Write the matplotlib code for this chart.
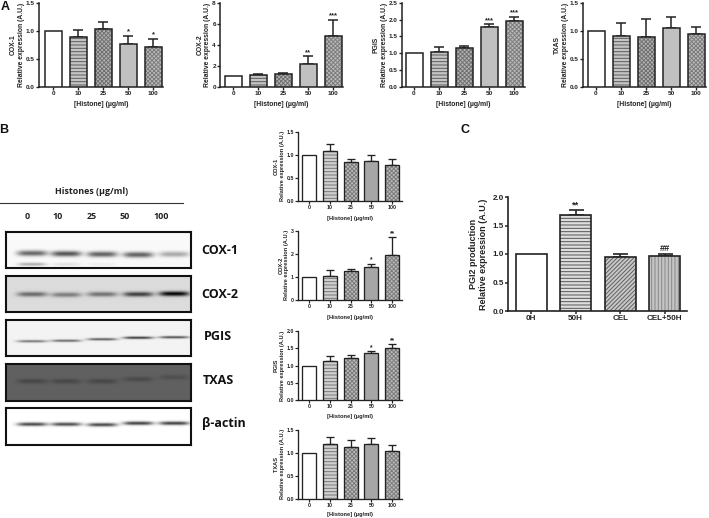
import numpy as np
import matplotlib
matplotlib.use('Agg')
import matplotlib.pyplot as plt

plt.rcParams['font.family'] = ['Liberation Sans', 'DejaVu Sans']
plt.rcParams['hatch.linewidth'] = 0.7
W, H = 709, 518

doses = ['0', '10', '25', '50', '100']
treatments = ['0H', '50H', 'CEL', 'CEL+50H']

# panel A
a_cox1 = [1, 0.88, 1.03, 0.76, 0.71]
a_cox1_top = [1, 1.02, 1.15, 0.91, 0.86]
a_cox1_sig = ['', '', '', '*', '*']
a_cox2 = [1, 1.12, 1.22, 2.2, 4.8]
a_cox2_top = [1, 1.17, 1.32, 2.88, 6.4]
a_cox2_sig = ['', '', '', '**', '***']
a_pgis = [1, 1.03, 1.14, 1.77, 1.96]
a_pgis_top = [1, 1.19, 1.22, 1.86, 2.07]
a_pgis_sig = ['', '', '', '***', '***']
a_txas = [1, 0.9, 0.89, 1.04, 0.95]
a_txas_top = [1, 1.13, 1.21, 1.24, 1.06]
a_txas_sig = ['', '', '', '', '']

# panel B
b_cox1 = [1, 1.08, 0.85, 0.86, 0.79]
b_cox1_top = [1, 1.24, 0.91, 0.99, 0.91]
b_cox1_sig = ['', '', '', '', '']
b_cox2 = [1, 1.05, 1.26, 1.44, 1.95]
b_cox2_top = [1, 1.29, 1.34, 1.56, 2.72]
b_cox2_sig = ['', '', '', '*', '**']
b_pgis = [1, 1.14, 1.23, 1.37, 1.52]
b_pgis_top = [1, 1.28, 1.29, 1.41, 1.61]
b_pgis_sig = ['', '', '', '*', '**']
b_txas = [1, 1.2, 1.13, 1.18, 1.04]
b_txas_top = [1, 1.35, 1.27, 1.33, 1.17]
b_txas_sig = ['', '', '', '', '']

# panel C
c_vals = [1, 1.69, 0.95, 0.96]
c_top = [1, 1.77, 1.0, 1.0]
c_sig = ['', '**', '', '##']

# blot band strength per lane
blot_names = ['COX-1', 'COX-2', 'PGIS', 'TXAS', 'β-actin']
blot_cox1 = [0.58, 0.65, 0.6, 0.6, 0.32]
blot_cox1_low = [0.3, 0.1, 0.05, 0, 0]
blot_cox2 = [0.45, 0.38, 0.42, 0.62, 0.85]
blot_pgis = [0.5, 0.55, 0.6, 0.75, 0.65]
blot_txas = [0.1, 0.1, 0.1, 0.09, 0.07]
blot_actin = [0.72, 0.7, 0.72, 0.75, 0.75]

INK = '#222222'
# face colour, hatch, hatch colour
A_STYLES = [('white', None, None), ('#c4c4c4', '-----', '#5c5c5c'),
            ('#b4b4b4', 'xxxxxxxx', '#707070'), ('#c0c0c0', None, None),
            ('#bcbcbc', 'xxxxxxxx', '#7c7c7c')]
B_STYLES = [('white', None, None), ('#cfcfcf', '-----', '#777777'),
            ('#bcbcbc', 'xxxxxxxx', '#7c7c7c'), ('#a6a6a6', None, None),
            ('#bcbcbc', 'xxxxxxxx', '#7c7c7c')]
C_STYLES = [('white', None, None), ('#dddddd', '-----', '#555555'),
            ('#c8c8c8', '////////', '#606060'), ('#c4c4c4', '|||||', '#888888')]

fig = plt.figure(figsize=(W / 100, H / 100), dpi=100)


def px_axes(left, right, top, bottom):
    return fig.add_axes([left / W, 1 - bottom / H, (right - left) / W, (bottom - top) / H])


def bars(left, right, top, bottom, first, step, width, labels, vals, tops, sig, styles,
         ymax, yticks, name, xlabel='[Histone] (µg/ml)', fs=4.6, lw=1.1, cap=3.9, xpad=3.6, ypad=0.6):
    ax = px_axes(left, right, top, bottom)
    x = np.arange(len(vals))
    for i in x:
        face, hatch, hatch_col = styles[i]
        # hatch takes the edge colour, so the outline goes on as a second bar
        ax.bar(i, vals[i], width=width / step, facecolor=face, hatch=hatch,
               edgecolor=hatch_col or face, linewidth=0, zorder=3)
        ax.bar(i, vals[i], width=width / step, fill=False, edgecolor=INK, linewidth=lw, zorder=4)
        if tops[i] > vals[i]:
            ax.errorbar(i, vals[i], yerr=[[0], [tops[i] - vals[i]]], color=INK, elinewidth=lw,
                        capsize=cap, capthick=lw, zorder=2)
        if sig[i]:
            ax.text(i, tops[i] + ymax * 0.005, sig[i], ha='center', va='bottom', fontsize=fs + 0.9,
                    color=INK, fontweight='bold', linespacing=0.8)
    ax.set_xlim((left - first) / step, (right - first) / step)
    ax.set_ylim(0, ymax)
    ax.set_xticks(x, labels)
    ax.set_yticks(yticks, [f'{t:g}' if ymax in (8, 3) else f'{t:.1f}' for t in yticks])
    ax.spines[['top', 'right']].set_visible(False)
    ax.spines[['left', 'bottom']].set_linewidth(lw)
    ax.spines[['left', 'bottom']].set_color(INK)
    ax.tick_params(length=2.0, width=lw * 0.9, labelsize=fs, pad=1.0, color=INK, labelcolor=INK)
    for lab in ax.get_xticklabels() + ax.get_yticklabels():
        lab.set_fontweight('bold')
    ax.set_xlabel(xlabel, fontsize=fs + 0.35, fontweight='bold', color=INK, labelpad=xpad)
    ax.set_ylabel(name + '\nRelative expression (A.U.)', fontsize=fs + 0.3, fontweight='bold',
                  color=INK, labelpad=ypad, linespacing=1.2)
    return ax


def blot(top, bottom, bg, strengths, band_y, band_h, low=None):
    ax = px_axes(5.5, 191.5, top, bottom)
    ny, nx = int(bottom - top) * 2, 372
    yy, xx = np.mgrid[0:ny, 0:nx]
    xx = xx / 2
    yy = yy / 2
    img = np.full((ny, nx), float(bg))
    lanes = [26, 60, 96, 132, 168]
    for c, s, y0 in zip(lanes, strengths, band_y):
        img -= s * np.exp(-((xx - c) / 15) ** 4) * np.exp(-((yy - y0) / band_h) ** 2)
    if low is not None:
        for c, s in zip(lanes, low):
            img -= s * np.exp(-((xx - c) / 14) ** 4) * np.exp(-((yy - 32) / 1.6) ** 2)
    ax.imshow(np.clip(img, 0, 1), cmap='gray', vmin=0, vmax=1, aspect='auto',
              extent=(0, 186, bottom - top, 0), interpolation='bilinear')
    ax.set_xticks([])
    ax.set_yticks([])
    for s in ax.spines.values():
        s.set_linewidth(1.5)
        s.set_color('#111111')


# top row
bars(39, 163, 2.7, 86.7, 53, 25, 17, doses, a_cox1, a_cox1_top, a_cox1_sig, A_STYLES,
     1.5, [0, 0.5, 1.0, 1.5], 'COX-1')
bars(220, 343, 2.7, 86.7, 233, 25, 17, doses, a_cox2, a_cox2_top, a_cox2_sig, A_STYLES,
     8, [0, 2, 4, 6, 8], 'COX-2')
bars(402, 525, 2.7, 86.7, 414, 25, 17, doses, a_pgis, a_pgis_top, a_pgis_sig, A_STYLES,
     2.5, [0, 0.5, 1.0, 1.5, 2.0, 2.5], 'PGIS')
bars(583, 706, 2.7, 86.7, 596, 25, 17, doses, a_txas, a_txas_top, a_txas_sig, A_STYLES,
     1.5, [0, 0.5, 1.0, 1.5], 'TXAS')

# middle column
bars(298, 402, 131.7, 201, 309, 20.8, 14, doses, b_cox1, b_cox1_top, b_cox1_sig, B_STYLES,
     1.5, [0, 0.5, 1.0, 1.5], 'COX-1', fs=3.8, lw=0.95, cap=3.2, xpad=4.4, ypad=1.2)
bars(298, 402, 230.7, 300, 309, 20.8, 14, doses, b_cox2, b_cox2_top, b_cox2_sig, B_STYLES,
     3, [0, 1, 2, 3], 'COX-2', fs=3.8, lw=0.95, cap=3.2, xpad=4.0, ypad=1.2)
bars(298, 402, 331, 400, 309, 20.8, 14, doses, b_pgis, b_pgis_top, b_pgis_sig, B_STYLES,
     2.0, [0, 0.5, 1.0, 1.5, 2.0], 'PGIS', fs=3.8, lw=0.95, cap=3.2, xpad=3.6, ypad=1.2)
bars(298, 402, 429.7, 499, 309, 20.8, 14, doses, b_txas, b_txas_top, b_txas_sig, B_STYLES,
     1.5, [0, 0.5, 1.0, 1.5], 'TXAS', fs=3.8, lw=0.95, cap=3.2, xpad=2.8, ypad=1.2)

# panel C
ax_c = bars(508, 687, 197, 311, 531, 44.6, 31, treatments, c_vals, c_top, c_sig, C_STYLES,
            2.0, [0, 0.5, 1.0, 1.5, 2.0], 'PGI2 production', xlabel='', fs=5.8, lw=1.2, cap=5.4)
ax_c.set_ylabel('PGI2 production\nRelative expression (A.U.)', fontsize=6.5, fontweight='bold',
                color=INK, labelpad=3, linespacing=1.15)

# blots
blot(232, 268, 0.98, blot_cox1, [21, 21.5, 22, 22.5, 22], 2.8, low=blot_cox1_low)
blot(276, 312, 0.86, blot_cox2, [18, 18.5, 18, 18, 17.5], 2.4)
blot(320, 356, 0.95, blot_pgis, [21, 20.5, 19, 17.5, 17], 1.2)
blot(364, 401, 0.38, blot_txas, [17, 17, 17, 15, 13], 2.5)
blot(408, 445, 1.0, blot_actin, [16, 16, 16.5, 15, 15], 1.8)

# text and lines laid out in pixels on an overlay
ov = fig.add_axes([0, 0, 1, 1], facecolor='none')
ov.set_xlim(0, W)
ov.set_ylim(H, 0)
ov.axis('off')
for txt, x, y in [('A', 5, 7), ('B', 4, 130), ('C', 465, 130)]:
    ov.text(x, y, txt, fontsize=9, fontweight='bold', color='#111111', ha='center', va='center')
ov.text(92, 192, 'Histones (µg/ml)', fontsize=6.4, fontweight='bold', color='#222222',
        family=['Open Sans', 'DejaVu Sans'], ha='center', va='center')
ov.plot([0, 183], [202.5, 202.5], color='#333333', lw=0.8)
for lab, x in zip(doses, [27, 58, 92, 125, 161]):
    ov.text(x, 216.5, lab, fontsize=6.4, fontweight='bold', color='#222222',
            family=['Open Sans', 'DejaVu Sans'], ha='center', va='center')
for name, x, y in zip(blot_names, [220, 220, 218, 218, 224], [251, 294, 337, 381, 424]):
    ov.text(x, y, name, fontsize=9, fontweight='bold', color='#111111',
            family=['Open Sans', 'DejaVu Sans'], ha='center', va='center')

fig.savefig('out.png', dpi=100)
